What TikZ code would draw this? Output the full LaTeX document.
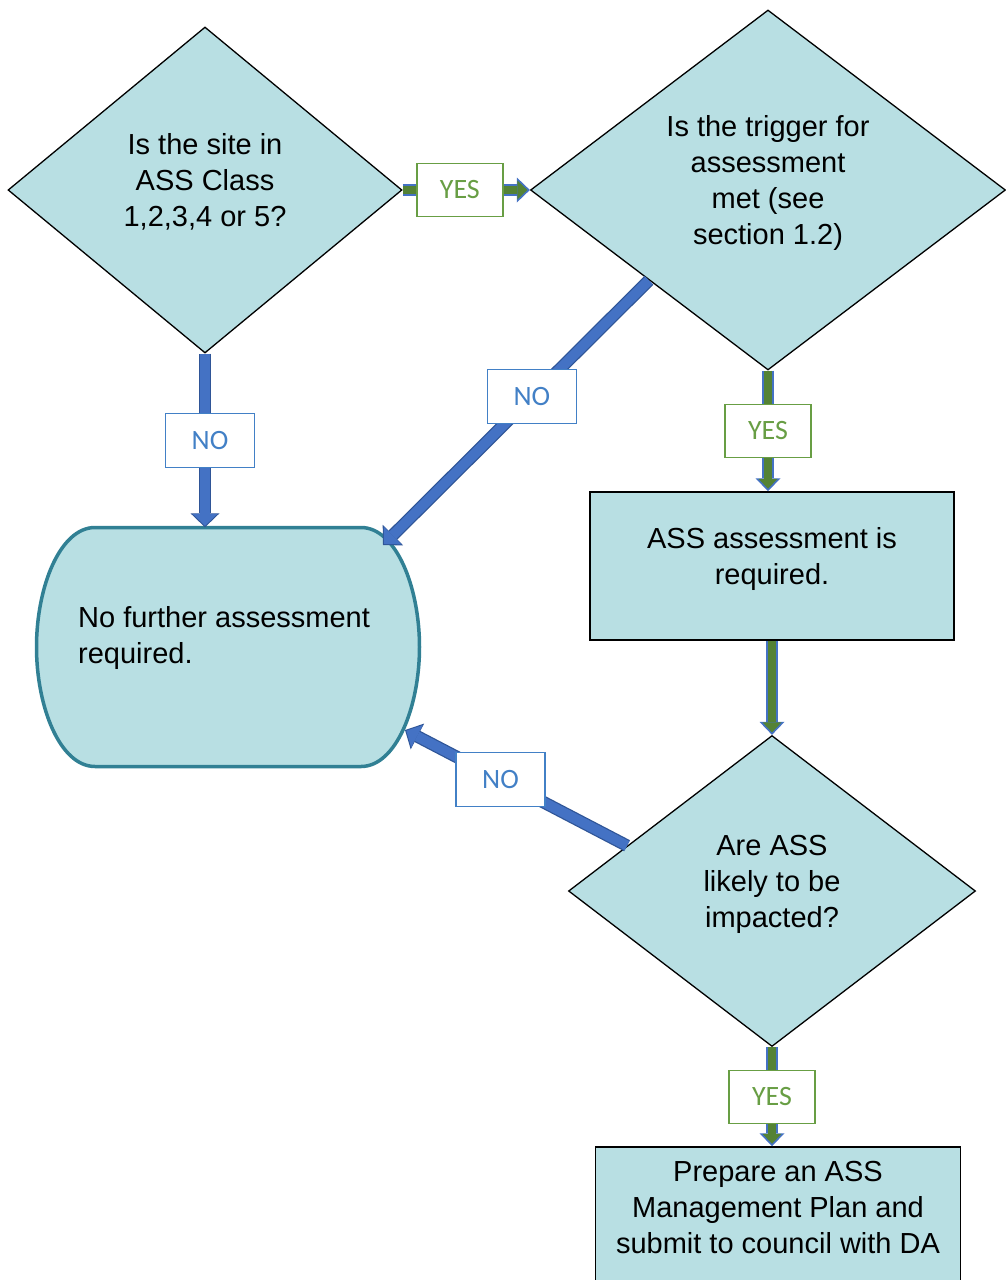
\documentclass[tikz,border=0pt]{standalone}
\usepackage{fontspec}
\setmainfont{Liberation Sans}
\newfontfamily\lblfont{Carlito}
\usetikzlibrary{shapes.geometric,arrows.meta,positioning,calc}

\definecolor{assfill}{RGB}{184,223,227}
\definecolor{termedge}{RGB}{49,128,148}
\definecolor{noblue}{RGB}{68,114,196}
\definecolor{noedge}{RGB}{47,85,151}
\definecolor{yesgreen}{RGB}{84,130,53}
\definecolor{yestext}{RGB}{104,158,68}
\definecolor{notext}{RGB}{66,128,198}

\begin{document}
\begin{tikzpicture}[x=1pt,y=-1pt,on grid,
  every node/.style={font=\fontsize{29pt}{36pt}\selectfont},
  decision/.style={diamond,draw=black,line width=1.3pt,fill=assfill,inner sep=0pt,align=center,text depth=20pt},
  process/.style={rectangle,draw=black,line width=1.5pt,fill=assfill,align=center,text depth=20pt,minimum width=364pt,minimum height=148pt},
  terminal/.style={draw=termedge,line width=3.5pt,fill=assfill},
  yeslabel/.style={draw=yestext,text=yestext,fill=white,line width=1.3pt,inner sep=0pt,minimum width=86pt,minimum height=53pt,font=\lblfont\fontsize{28pt}{30pt}\selectfont},
  nolabel/.style={yeslabel,draw=notext,text=notext,minimum width=89pt,minimum height=54pt},
  yesarrow/.style={draw=yesgreen,line width=7.5pt,-{Triangle[length=10pt,width=19pt,line width=0pt]},shorten >=2.5pt,
    preaction={draw=noblue,line width=12.5pt,-{Triangle[length=13pt,width=25pt,line width=0pt]},shorten >=0pt}},
  noarrow/.style={draw=noblue,line width=10pt,-{Triangle[length=12pt,width=25pt,line width=0pt]},shorten >=1.5pt,
    preaction={draw=noedge,line width=12.5pt,-{Triangle[length=14pt,width=29pt,line width=0pt]},shorten >=0pt}}]

  \useasboundingbox (0,0) rectangle (1005,1280);

  \node[decision,minimum width=394pt,minimum height=326pt] (site) at (205,190) {Is the site in\\ASS Class\\1,2,3,4 or 5?};
  \node[decision,minimum width=475pt,minimum height=360pt] (trigger) [right=563pt of site] {Is the trigger for\\assessment\\met (see\\section 1.2)};
  \node[process] (required) [below=376pt of trigger,xshift=4pt] {ASS assessment is\\required.};
  \node[decision,minimum width=407pt,minimum height=311pt] (impact) [below=325pt of required] {Are ASS\\likely to be\\impacted?};
  \node[process,minimum width=365pt,minimum height=140pt] (plan) [below=326pt of impact,xshift=6pt] {Prepare an ASS\\Management Plan and\\submit to council with DA};

  % terminal drawn by hand, node only holds the place
  \node[minimum width=383pt,minimum height=239pt] (none) [below=457pt of site,xshift=23pt] {};
  \begin{scope}[shift={(none.center)}]
    \draw[terminal] (-133,-119.5) -- (133,-119.5)
      .. controls (168,-119.5) and (191.5,-60) .. (191.5,0)
      .. controls (191.5,60) and (168,119.5) .. (133,119.5) -- (-133,119.5)
      .. controls (-168,119.5) and (-191.5,60) .. (-191.5,0)
      .. controls (-191.5,-60) and (-168,-119.5) .. (-133,-119.5) -- cycle;
  \end{scope}
  \node[anchor=west,align=left,inner sep=0pt] (nonetext) at (78,638) {No further assessment\\required.};

  \coordinate (impactout) at ($(impact.west)!0.29!(impact.north)$);
  \coordinate (nonetop) at (383,545);
  \coordinate (nonebot) at (405,730);

  \path (site.east) edge[yesarrow] node[yeslabel,pos=0.45] {YES} (trigger.west)
        (site.south) edge[noarrow] node[nolabel,xshift=5pt] {NO} (site.south |- none.north)
        (trigger.south west) edge[noarrow] node[nolabel,pos=0.44] {NO} (nonetop)
        (trigger.south) edge[yesarrow] node[yeslabel] {YES} (trigger.south |- required.north)
        (required.south) edge[yesarrow] (impact.north)
        (impactout) edge[noarrow] node[nolabel,pos=0.57] {NO} (nonebot)
        (impact.south) edge[yesarrow] node[yeslabel] {YES} (impact.south |- plan.north);
\end{tikzpicture}
\end{document}
